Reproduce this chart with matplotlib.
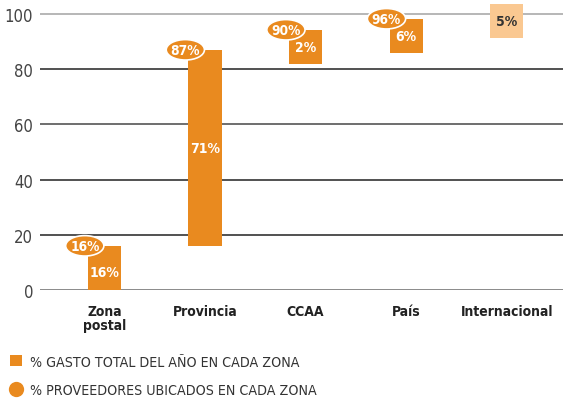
import numpy as np
import matplotlib.pyplot as plt
from matplotlib.patches import Ellipse, Patch
from matplotlib.lines import Line2D

zonas = ["Zona\npostal", "Provincia", "CCAA", "País", "Internacional"]
gasto = [16, 71, 2, 6, 5]            # % gasto total del año en cada zona
proveedores = [16, 87, 90, 96]        # % proveedores ubicados (acumulado)

naranja = "#E98A1F"
naranja_claro = "#FAC891"
plt.rcParams["font.family"] = ["DejaVu Sans"]
plt.rcParams["font.stretch"] = "condensed"

fig = plt.figure(figsize=(5.63, 4.02), dpi=100)
ax = fig.add_axes([40 / 563, 111 / 402, 523 / 563, 291 / 402])

x = np.arange(len(zonas))
acum = np.cumsum(gasto)
centro = acum - np.array(gasto) / 2
# altura mínima para que quepa la etiqueta en las barras pequeñas
alto = np.maximum(gasto, 12.5)
base = np.maximum(centro - alto / 2, 0)

colores = [naranja] * 4 + [naranja_claro]
ax.bar(x, alto, bottom=base, width=0.33, color=colores, zorder=3, clip_on=False)

for i, v in enumerate(gasto):
    color_txt = "white" if i < 4 else "#333333"
    y_txt = base[i] + alto[i] / 2 if i != 0 else base[i] + alto[i] * 0.4
    ax.text(x[i], y_txt, f"{v}%", ha="center", va="center", color=color_txt,
            fontsize=10, fontweight="bold", zorder=5)

# óvalos con el % de proveedores en la esquina superior de cada barra
for i, p in enumerate(proveedores):
    cx = x[i] - 0.165 - 0.03
    cy = base[i] + alto[i]
    ax.add_patch(Ellipse((cx, cy), 0.38, 7.4, facecolor=naranja, edgecolor="white",
                         linewidth=1.2, zorder=4, clip_on=False))
    ax.text(cx, cy, f"{p}%", ha="center", va="center", color="white",
            fontsize=9.8, fontweight="bold", zorder=5)

ticks = [0, 20, 40, 60, 80, 100]
colores_linea = ["#777777", "#333333", "#333333", "#555555", "#333333", "#aaaaaa"]
for t, c in zip(ticks, colores_linea):
    ax.axhline(t, color=c, linewidth=1.2, zorder=1)

ax.set_ylim(0, 105.4)
ax.set_xlim(-0.64, 4.56)
ax.set_yticks(ticks)
ax.set_xticks(x)
ax.set_xticklabels(zonas, fontweight="bold", fontsize=10, color="#222222",
                   linespacing=1.0)
ax.tick_params(axis="y", length=0, pad=5, labelsize=12, labelcolor="#444444")
ax.tick_params(axis="x", length=0, pad=10)
for s in ax.spines.values():
    s.set_visible(False)

handles = [
    Patch(facecolor=naranja, edgecolor="none"),
    Line2D([], [], marker="o", linestyle="none", markersize=11,
           markerfacecolor=naranja, markeredgecolor="none"),
]
etiquetas = ["% GASTO TOTAL DEL AÑO EN CADA ZONA", "% PROVEEDORES UBICADOS EN CADA ZONA"]
fig.legend(handles, etiquetas, loc="lower left", bbox_to_anchor=(0.011, 0.0),
           frameon=False, fontsize=10.2, handlelength=0.8, handleheight=0.8,
           handletextpad=0.6, labelspacing=1.0, borderaxespad=0.0,
           borderpad=0.3, labelcolor="#333333")

fig.savefig("out.png", dpi=100)
